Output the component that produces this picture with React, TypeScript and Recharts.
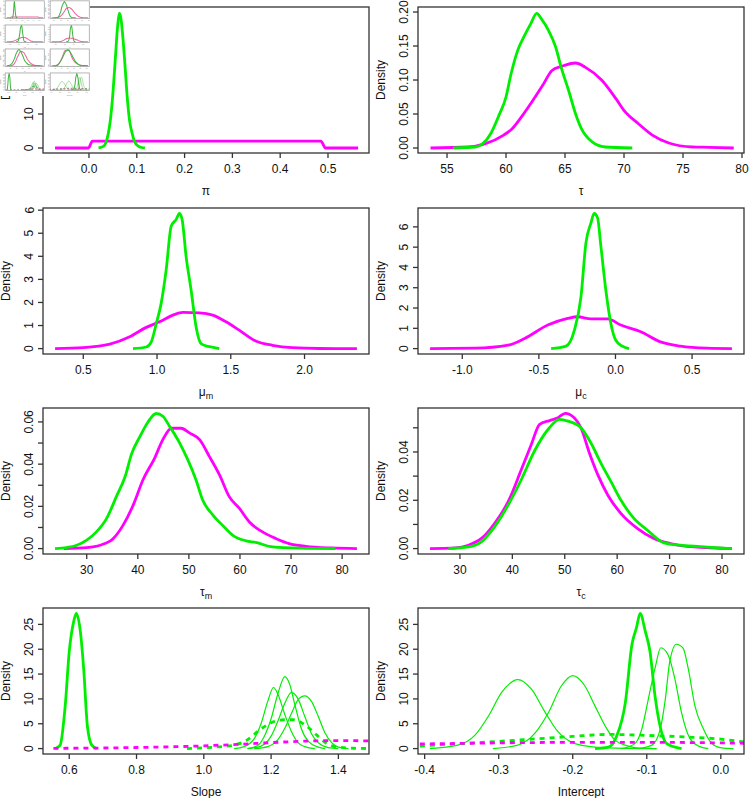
import React from 'react'
import { Line, LineChart, XAxis, YAxis } from 'recharts'

type Pt = [number, number]

// pi
const piPost: Pt[] = [
  [0.02, 0.05], [0.03, 0.5], [0.035, 1.5], [0.04, 4], [0.045, 8.5], [0.05, 16],
  [0.055, 26], [0.06, 36], [0.0635, 39.7], [0.067, 38], [0.07, 34], [0.075, 25],
  [0.08, 15], [0.085, 8], [0.09, 4.5], [0.095, 2], [0.1, 0.9], [0.105, 0.4],
  [0.11, 0.15], [0.117, 0.02],
]
const piPrior: Pt[] = [
  [-0.071, 0], [-0.001, 0], [0.007, 2], [0.25, 2], [0.485, 2], [0.495, 0], [0.563, 0],
]

// tau
const tauPost: Pt[] = [
  [55.5, 0], [57.4, 0.0015], [58.0, 0.006], [58.7, 0.021], [59.4, 0.048], [60.0, 0.075],
  [60.4, 0.107], [61.0, 0.144], [61.5, 0.163], [62.1, 0.183], [62.6, 0.198], [63.0, 0.19],
  [63.6, 0.173], [64.2, 0.149], [64.7, 0.117], [65.3, 0.085], [65.9, 0.05], [66.4, 0.028],
  [67.3, 0.009], [68.4, 0.0015], [70.7, 0],
]
const tauPrior: Pt[] = [
  [53.6, 0], [56.8, 0.0015], [58.2, 0.006], [59.8, 0.019], [60.5, 0.028], [61.4, 0.048],
  [62.2, 0.068], [63.1, 0.092], [63.9, 0.114], [64.7, 0.12], [65.9, 0.125], [66.7, 0.119],
  [68.1, 0.1], [69.3, 0.073], [70.1, 0.053], [71.2, 0.036], [72.4, 0.019], [73.8, 0.0074],
  [75.8, 0.0015], [77.2, 0.001], [79.3, 0],
]

// mu_m
const muMPost: Pt[] = [
  [0.837, 0], [0.927, 0.07], [0.961, 0.29], [0.995, 1.09], [1.028, 1.96], [1.062, 3.41],
  [1.096, 5.3], [1.13, 5.6], [1.152, 5.86], [1.17, 5.6], [1.197, 4.0], [1.231, 2.54],
  [1.265, 0.94], [1.298, 0.22], [1.332, 0.12], [1.366, 0.07], [1.422, 0],
]
const muMPrior: Pt[] = [
  [0.309, 0], [0.5, 0.04], [0.68, 0.19], [0.815, 0.51], [0.927, 0.92], [1.017, 1.16],
  [1.107, 1.45], [1.175, 1.57], [1.287, 1.55], [1.377, 1.45], [1.467, 1.16], [1.557, 0.8],
  [1.669, 0.33], [1.782, 0.145], [1.917, 0.04], [2.1, 0.005], [2.355, 0],
]

// mu_c
const muCPost: Pt[] = [
  [-0.42, 0], [-0.3225, 0.12], [-0.268, 0.91], [-0.225, 2.56], [-0.193, 5.2], [-0.16, 6.2],
  [-0.139, 6.66], [-0.117, 6.45], [-0.095, 5.04], [-0.063, 2.89], [-0.03, 1.24],
  [0.002, 0.41], [0.045, 0.12], [0.089, 0],
]
const muCPrior: Pt[] = [
  [-1.21, 0], [-0.918, 0.02], [-0.7, 0.17], [-0.593, 0.5], [-0.442, 1.16], [-0.312, 1.49],
  [-0.247, 1.57], [-0.16, 1.47], [-0.052, 1.47], [0.035, 1.16], [0.165, 0.83],
  [0.294, 0.33], [0.424, 0.12], [0.597, 0.02], [0.76, 0],
]

// tau_m
const tauMPost: Pt[] = [
  [23.8, 0], [26.1, 0.0005], [28.05, 0.0016], [30, 0.004], [31.9, 0.0079], [33.9, 0.0143],
  [35.8, 0.0246], [37.5, 0.034], [38.8, 0.045], [40.4, 0.053], [42, 0.06], [43.6, 0.064],
  [44.9, 0.0627], [46.2, 0.058], [48.2, 0.05], [49.8, 0.042], [51.4, 0.0325], [52.7, 0.023],
  [54.7, 0.0159], [56.6, 0.011], [58.6, 0.0063], [61.2, 0.0037], [63.1, 0.0029],
  [66.4, 0.0008], [71.6, 0.0002], [78.7, 0],
]
const tauMPrior: Pt[] = [
  [25.5, 0], [30, 0.0005], [32.6, 0.0016], [35.2, 0.0048], [37.1, 0.011], [39.1, 0.0206],
  [41, 0.0325], [43.3, 0.0429], [44.9, 0.0516], [46.6, 0.057], [48.5, 0.057], [50.1, 0.0548],
  [52.1, 0.0516], [54, 0.0437], [56, 0.0349], [57.9, 0.0246], [59.9, 0.019], [61.8, 0.0127],
  [64.4, 0.0079], [67, 0.0048], [69.6, 0.0024], [72.9, 0.0011], [78, 0.0003], [82.9, 0],
]

// tau_c
const tauCPrior: Pt[] = [
  [24.3, 0], [29.1, 0.0003], [31.6, 0.0014], [34.1, 0.0042], [36.6, 0.0104], [39.2, 0.0194],
  [41.7, 0.0326], [43.6, 0.043], [45.2, 0.0514], [47.1, 0.053], [48.7, 0.0542], [50.1, 0.056],
  [51.8, 0.0542], [53.1, 0.05], [54.7, 0.0396], [56.3, 0.0306], [58.2, 0.0222], [60.7, 0.0146],
  [63.9, 0.0083], [67, 0.0042], [70.2, 0.0021], [74.6, 0.0007], [81.9, 0],
]
const tauCPost: Pt[] = [
  [27.8, 0], [31.6, 0.0007], [34.1, 0.0028], [36.6, 0.009], [39.2, 0.018], [41.7, 0.0285],
  [44.2, 0.0403], [46.8, 0.0493], [49, 0.0535], [50.6, 0.0528], [53.1, 0.05], [55, 0.0437],
  [56.9, 0.0354], [58.8, 0.0278], [60.7, 0.0201], [63.2, 0.0125], [65.8, 0.0076],
  [68.9, 0.0024], [72.1, 0.0014], [77.2, 0.0006], [81.9, 0],
]

// slope
const slopePost: Pt[] = [
  [0.558, 0], [0.573, 0.7], [0.588, 8.6], [0.6, 19.5], [0.613, 25.5], [0.621, 27.2],
  [0.633, 23.6], [0.643, 16], [0.654, 4.5], [0.667, 0.7], [0.682, 0],
]
const slopePrior: Pt[] = [
  [0.553, 0.05], [0.7, 0.12], [0.8, 0.22], [0.9, 0.35], [1.0, 0.55], [1.1, 0.85],
  [1.2, 1.2], [1.3, 1.5], [1.4, 1.6], [1.5, 1.55], [1.6, 1.45],
]
const slopeMix: Pt[] = [
  [0.95, 0], [1.04, 0.34], [1.09, 0.7], [1.128, 1.7], [1.167, 3.8], [1.197, 5.1],
  [1.237, 5.8], [1.266, 5.8], [1.306, 4.5], [1.336, 2.7], [1.365, 1.0], [1.395, 0.34],
  [1.445, 0.07], [1.5, 0],
]
const slopeA: Pt[] = [
  [1.09, 0], [1.12, 0.4], [1.15, 2], [1.17, 5], [1.19, 9.5], [1.207, 12.3], [1.22, 11],
  [1.24, 7], [1.26, 3.5], [1.28, 1.2], [1.3, 0.4], [1.33, 0],
]
const slopeB: Pt[] = [
  [1.13, 0], [1.16, 0.6], [1.18, 2.5], [1.2, 6], [1.22, 11], [1.241, 14.5], [1.255, 13],
  [1.27, 9], [1.29, 4], [1.31, 1.5], [1.34, 0.3], [1.36, 0],
]
const slopeC: Pt[] = [
  [1.13, 0], [1.17, 0.5], [1.2, 2.5], [1.22, 5.5], [1.24, 9], [1.261, 11.3], [1.28, 10],
  [1.3, 6.5], [1.32, 3], [1.34, 1.2], [1.37, 0.2], [1.4, 0],
]
const slopeD: Pt[] = [
  [1.15, 0], [1.19, 0.4], [1.22, 1.8], [1.24, 4], [1.26, 7], [1.28, 9.8], [1.3, 10.6],
  [1.32, 9.5], [1.34, 6.5], [1.36, 3.2], [1.38, 1.2], [1.4, 0.3], [1.43, 0],
]

// intercept
const icptPost: Pt[] = [
  [-0.17, 0], [-0.152, 0.3], [-0.141, 2.4], [-0.129, 9.2], [-0.12, 21], [-0.114, 24.3],
  [-0.109, 27.2], [-0.102, 23.6], [-0.0956, 19.5], [-0.0889, 10.6], [-0.082, 4.5],
  [-0.073, 1], [-0.053, 0],
]
const icptPrior: Pt[] = [
  [-0.42, 0.9], [-0.35, 1.05], [-0.3, 1.15], [-0.2, 1.25], [-0.1, 1.25], [0.0, 1.15], [0.04, 1.05],
]
const icptMix: Pt[] = [
  [-0.42, 0.4], [-0.35, 1.0], [-0.3, 1.45], [-0.25, 1.95], [-0.2, 2.45], [-0.15, 2.85],
  [-0.1, 2.65], [-0.05, 2.35], [0.0, 1.9], [0.04, 1.15],
]
const icptA: Pt[] = [
  [-0.393, 0], [-0.355, 0.7], [-0.332, 2.7], [-0.314, 6.5], [-0.296, 11.3], [-0.274, 13.9],
  [-0.256, 12], [-0.238, 7.5], [-0.22, 3.4], [-0.197, 1.0], [-0.17, 0.3], [-0.13, 0.05], [-0.087, 0],
]
const icptB: Pt[] = [
  [-0.308, 0], [-0.274, 0.7], [-0.251, 3.1], [-0.233, 7.2], [-0.215, 12.7], [-0.2, 14.7],
  [-0.184, 12.7], [-0.17, 8.6], [-0.156, 4.5], [-0.143, 1.7], [-0.125, 0.5], [-0.107, 0.07], [-0.087, 0],
]
const icptC: Pt[] = [
  [-0.134, 0], [-0.116, 1.0], [-0.107, 3.8], [-0.098, 9.9], [-0.089, 16.1], [-0.081, 20.3],
  [-0.071, 18.8], [-0.062, 14], [-0.053, 7.2], [-0.042, 2.1], [-0.03, 0.5], [-0.017, 0],
]
const icptD: Pt[] = [
  [-0.111, 0], [-0.093, 0.7], [-0.082, 3.8], [-0.075, 9.9], [-0.069, 17.5], [-0.06, 21],
  [-0.051, 20.2], [-0.044, 16.1], [-0.035, 8.6], [-0.023, 3.8], [-0.012, 1.0], [0.001, 0.14], [0.017, 0],
]

// ticks
const piXTicks = [0, 0.1, 0.2, 0.3, 0.4, 0.5]
const piYTicks = [0, 10, 20, 30, 40]
const tauXTicks = [55, 60, 65, 70, 75, 80]
const tauYTicks = [0, 0.05, 0.1, 0.15, 0.2]
const muMXTicks = [0.5, 1.0, 1.5, 2.0]
const muCXTicks = [-1.0, -0.5, 0.0, 0.5]
const muYTicks = [0, 1, 2, 3, 4, 5, 6]
const tauMCXTicks = [30, 40, 50, 60, 70, 80]
const tauMYTicks = [0, 0.01, 0.02, 0.03, 0.04, 0.05, 0.06]
const tauMYLabels = [0, 0.02, 0.04, 0.06]
const tauCYTicks = [0, 0.01, 0.02, 0.03, 0.04, 0.05]
const tauCYLabels = [0, 0.02, 0.04]
const slopeXTicks = [0.6, 0.8, 1.0, 1.2, 1.4]
const icptXTicks = [-0.4, -0.3, -0.2, -0.1, 0.0]
const bottomYTicks = [0, 5, 10, 15, 20, 25]

type Curve = { pts: Pt[]; col: 'g' | 'm'; kind: 'thick' | 'thin' | 'dash' }
type Panel = {
  label: string
  sub?: string
  xDomain: [number, number]
  yDomain: [number, number]
  xTicks: number[]
  yTicks: number[]
  yLabels?: number[]
  xDigits: number
  yDigits: number
  curves: Curve[]
}

const panels: Panel[] = [
  {
    label: 'π', xDomain: [-0.0962, 0.5858], yDomain: [-1.47, 41.5],
    xTicks: piXTicks, yTicks: piYTicks, xDigits: 1, yDigits: 0,
    curves: [{ pts: piPrior, col: 'm', kind: 'thick' }, { pts: piPost, col: 'g', kind: 'thick' }],
  },
  {
    label: 'τ', xDomain: [52.54, 80.17], yDomain: [-0.00735, 0.2074],
    xTicks: tauXTicks, yTicks: tauYTicks, xDigits: 0, yDigits: 2,
    curves: [{ pts: tauPrior, col: 'm', kind: 'thick' }, { pts: tauPost, col: 'g', kind: 'thick' }],
  },
  {
    label: 'μ', sub: 'm', xDomain: [0.227, 2.437], yDomain: [-0.234, 6.094],
    xTicks: muMXTicks, yTicks: muYTicks, xDigits: 1, yDigits: 0,
    curves: [{ pts: muMPrior, col: 'm', kind: 'thick' }, { pts: muMPost, col: 'g', kind: 'thick' }],
  },
  {
    label: 'μ', sub: 'c', xDomain: [-1.289, 0.839], yDomain: [-0.266, 6.93],
    xTicks: muCXTicks, yTicks: muYTicks, xDigits: 1, yDigits: 0,
    curves: [{ pts: muCPrior, col: 'm', kind: 'thick' }, { pts: muCPost, col: 'g', kind: 'thick' }],
  },
  {
    label: 'τ', sub: 'm', xDomain: [21.44, 85.26], yDomain: [-0.00256, 0.0666],
    xTicks: tauMCXTicks, yTicks: tauMYTicks, yLabels: tauMYLabels, xDigits: 0, yDigits: 2,
    curves: [{ pts: tauMPrior, col: 'm', kind: 'thick' }, { pts: tauMPost, col: 'g', kind: 'thick' }],
  },
  {
    label: 'τ', sub: 'c', xDomain: [22.0, 84.2], yDomain: [-0.00224, 0.0582],
    xTicks: tauMCXTicks, yTicks: tauCYTicks, yLabels: tauCYLabels, xDigits: 0, yDigits: 2,
    curves: [{ pts: tauCPrior, col: 'm', kind: 'thick' }, { pts: tauCPost, col: 'g', kind: 'thick' }],
  },
  {
    label: 'Slope', xDomain: [0.522, 1.491], yDomain: [-1.09, 28.3],
    xTicks: slopeXTicks, yTicks: bottomYTicks, xDigits: 1, yDigits: 0,
    curves: [
      { pts: slopePost, col: 'g', kind: 'thick' },
      { pts: slopeA, col: 'g', kind: 'thin' },
      { pts: slopeB, col: 'g', kind: 'thin' },
      { pts: slopeC, col: 'g', kind: 'thin' },
      { pts: slopeD, col: 'g', kind: 'thin' },
      { pts: slopeMix, col: 'g', kind: 'dash' },
      { pts: slopePrior, col: 'm', kind: 'dash' },
    ],
  },
  {
    label: 'Intercept', xDomain: [-0.409, 0.0313], yDomain: [-1.09, 28.3],
    xTicks: icptXTicks, yTicks: bottomYTicks, xDigits: 1, yDigits: 0,
    curves: [
      { pts: icptA, col: 'g', kind: 'thin' },
      { pts: icptB, col: 'g', kind: 'thin' },
      { pts: icptC, col: 'g', kind: 'thin' },
      { pts: icptD, col: 'g', kind: 'thin' },
      { pts: icptPost, col: 'g', kind: 'thick' },
      { pts: icptMix, col: 'g', kind: 'dash' },
      { pts: icptPrior, col: 'm', kind: 'dash' },
    ],
  },
]

const rowTops = [0, 201, 401, 601]
const FONT = "'Liberation Sans', Arial, Helvetica, sans-serif"

type Pal = { g: string; m: string; box: string; text: string; k: number; boxW: number }

function PanelView({ p, left, top, pal }: { p: Panel; left: number; top: number; pal: Pal }) {
  const widths = { thick: 2.8, thin: 1.2, dash: 2.8 }
  const fmt = (v: number, d: number) => v.toFixed(d)
  return (
    <div style={{ position: 'absolute', left, top, width: 375, height: 200 }}>
      <LineChart width={375} height={200} margin={{ top: 7, right: 6, bottom: 0, left: 0 }}>
        <XAxis
          type="number"
          dataKey="x"
          domain={p.xDomain}
          allowDataOverflow
          ticks={p.xTicks}
          interval={0}
          height={47}
          tickSize={5}
          tickMargin={2}
          axisLine={false}
          tickLine={{ stroke: pal.box, strokeWidth: pal.boxW }}
          tick={(t: any) => (
            <text x={t.x} y={t.y + 13} textAnchor="middle" fontSize={12} fontFamily={FONT} fill={pal.text}>
              {fmt(t.payload.value, p.xDigits)}
            </text>
          )}
        />
        <YAxis
          type="number"
          dataKey="y"
          domain={p.yDomain}
          allowDataOverflow
          ticks={p.yTicks}
          interval={0}
          width={43}
          tickSize={5}
          tickMargin={2}
          axisLine={false}
          tickLine={{ stroke: pal.box, strokeWidth: pal.boxW }}
          tick={(t: any) => {
            const v = t.payload.value
            if (p.yLabels && !p.yLabels.some((l) => Math.abs(l - v) < 1e-9)) return <g />
            const tx = t.x - 2.5
            return (
              <text
                x={tx}
                y={t.y}
                transform={`rotate(-90, ${tx}, ${t.y})`}
                textAnchor="middle"
                fontSize={12}
                fontFamily={FONT}
                fill={pal.text}
              >
                {fmt(v, p.yDigits)}
              </text>
            )
          }}
        />
        {p.curves.map((c, j) => (
          <Line
            key={j}
            data={c.pts.map(([x, y]) => ({ x, y }))}
            dataKey="y"
            type="monotone"
            stroke={c.col === 'g' ? pal.g : pal.m}
            strokeWidth={widths[c.kind] * pal.k}
            strokeDasharray={c.kind === 'dash' ? `${5 * pal.k} ${5 * pal.k}` : undefined}
            dot={false}
            activeDot={false}
            isAnimationActive={false}
          />
        ))}
      </LineChart>
      <svg width={375} height={200} style={{ position: 'absolute', left: 0, top: 0, pointerEvents: 'none' }}>
        <rect x={43} y={7} width={326} height={146} fill="none" stroke={pal.box} strokeWidth={pal.boxW} />
        <text
          x={9.5}
          y={80}
          transform="rotate(-90, 9.5, 80)"
          textAnchor="middle"
          fontSize={12}
          fontFamily={FONT}
          fill={pal.text}
        >
          Density
        </text>
        <text x={206} y={195} textAnchor="middle" fontSize={12} fontFamily={FONT} fill={pal.text}>
          {p.label}
          {p.sub && (
            <tspan fontSize={9} dy={3}>
              {p.sub}
            </tspan>
          )}
        </text>
      </svg>
    </div>
  )
}

function Figure({ thumb }: { thumb?: boolean }) {
  const pal: Pal = thumb
    ? { g: '#3fb43f', m: '#f2609f', box: '#9a9a9a', text: '#777', k: 3, boxW: 6 }
    : { g: '#00ee00', m: '#ff00ff', box: '#333', text: '#111', k: 1, boxW: 1.3 }
  return (
    <div style={{ position: 'relative', width: 750, height: 798, background: '#fff' }}>
      {panels.map((p, i) => (
        <PanelView key={i} p={p} left={(i % 2) * 375} top={rowTops[Math.floor(i / 2)]} pal={pal} />
      ))}
    </div>
  )
}

export default function App() {
  return (
    <div style={{ position: 'absolute', left: 0, top: 0, width: 750, height: 798, background: '#fff', overflow: 'hidden' }}>
      <Figure />
      <div style={{ position: 'absolute', left: 0, top: 0, width: 90, height: 96, background: '#fff', overflow: 'hidden' }}>
        <div style={{ width: 750, height: 798, transform: 'scale(0.12)', transformOrigin: '0 0' }}>
          <Figure thumb />
        </div>
      </div>
    </div>
  )
}
